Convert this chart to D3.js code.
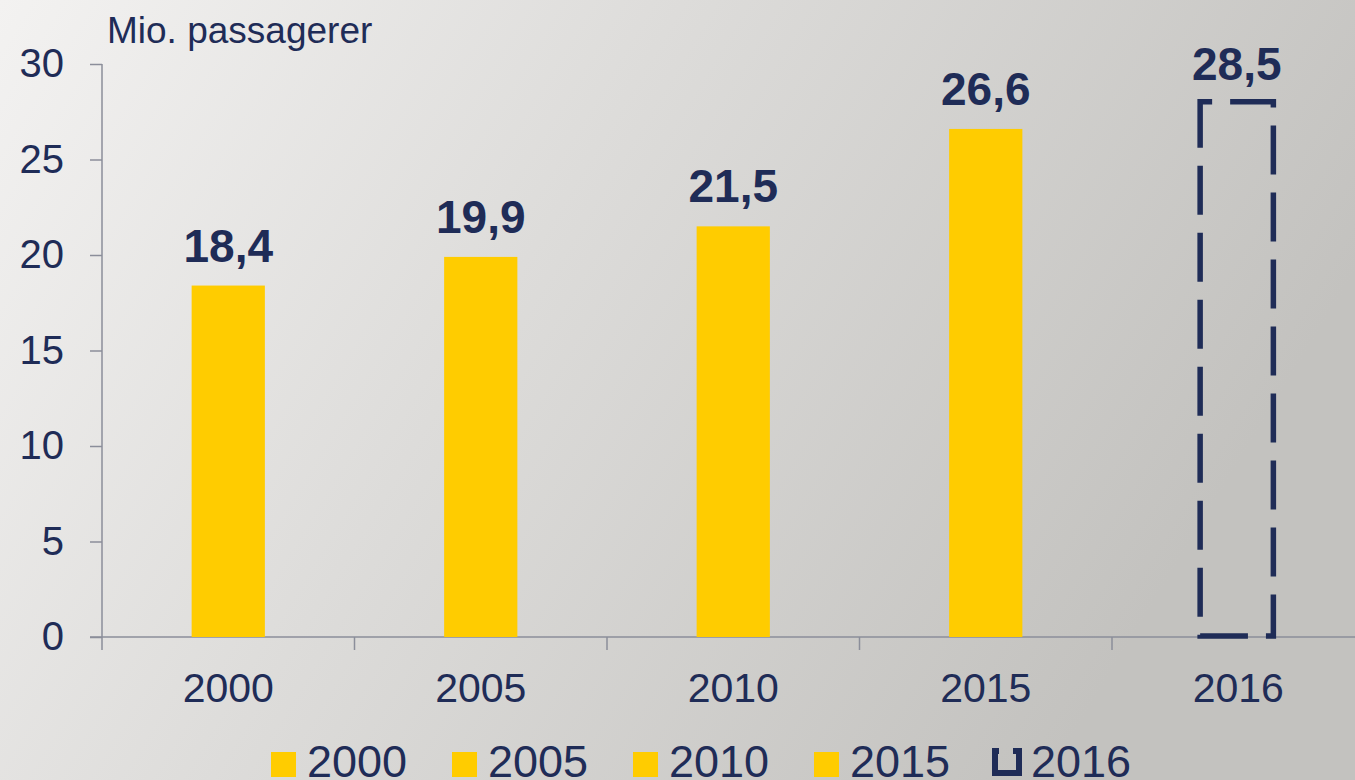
<!DOCTYPE html>
<html>
<head>
<meta charset="utf-8">
<script src="https://cdn.jsdelivr.net/npm/d3@7"></script>
<style>
  html, body { margin: 0; padding: 0; overflow: hidden; }
  svg { display: block; font-family: 'Liberation Sans', Arial, sans-serif; }
</style>
</head>
<body>
<svg id="chart"></svg>
<script>
const years = ['2000', '2005', '2010', '2015', '2016']
const values = [18.4, 19.9, 21.5, 26.6, 28.5]
const labels = ['18,4', '19,9', '21,5', '26,6', '28,5']
const outlined = [false, false, false, false, true]
const yTicks = [0, 5, 10, 15, 20, 25, 30]
const unitLabel = 'Mio. passagerer'

const W = 1355, H = 780
const navy = '#1f2c57'
const yellow = '#ffcc00'
const axisColor = '#8b8e9a'

const margin = { top: 64, left: 102 }
const plotBottom = 637
const band = 252.5

const svg = d3.select('#chart').attr('width', W).attr('height', H)

// background
const defs = svg.append('defs')
const grad = defs.append('linearGradient')
  .attr('id', 'bg')
  .attr('x1', 0).attr('y1', 0).attr('x2', 1).attr('y2', 0.35)
grad.append('stop').attr('offset', '0%').attr('stop-color', '#f3f2f1')
grad.append('stop').attr('offset', '45%').attr('stop-color', '#dddcda')
grad.append('stop').attr('offset', '100%').attr('stop-color', '#c3c2bf')
svg.append('rect').attr('width', W).attr('height', H).attr('fill', 'url(#bg)')

const xScale = d3.scaleBand()
  .domain(years)
  .range([margin.left, margin.left + band * years.length])

const yScale = d3.scaleLinear()
  .domain([0, 30])
  .range([plotBottom, margin.top])

const barW = xScale.bandwidth() * 0.29
const data = years.map((y, i) => ({ year: y, value: values[i], label: labels[i], outlined: outlined[i] }))

// y axis
const yAxis = d3.axisLeft(yScale).tickValues(yTicks).tickSize(12).tickPadding(26).tickFormat(d => d)
const gy = svg.append('g').attr('transform', `translate(${margin.left},0)`).call(yAxis)
gy.select('.domain').remove()
gy.selectAll('.tick line').attr('stroke', axisColor).attr('stroke-width', 1.5)
gy.selectAll('.tick text').attr('fill', navy).attr('font-size', 40).attr('font-family', null)
svg.append('line')
  .attr('x1', margin.left).attr('x2', margin.left)
  .attr('y1', yScale(30)).attr('y2', plotBottom)
  .attr('stroke', axisColor).attr('stroke-width', 1.5)

svg.append('text')
  .attr('x', 107).attr('y', 43)
  .attr('fill', navy).attr('font-size', 37)
  .text(unitLabel)

// x axis
svg.append('line')
  .attr('x1', margin.left - 12).attr('x2', W)
  .attr('y1', plotBottom).attr('y2', plotBottom)
  .attr('stroke', axisColor).attr('stroke-width', 1.5)

svg.selectAll('.xtick')
  .data(years)
  .enter()
  .append('line')
  .attr('class', 'xtick')
  .attr('x1', d => xScale(d)).attr('x2', d => xScale(d))
  .attr('y1', plotBottom).attr('y2', plotBottom + 13)
  .attr('stroke', axisColor).attr('stroke-width', 1.5)

svg.selectAll('.xlabel')
  .data(years)
  .enter()
  .append('text')
  .attr('class', 'xlabel')
  .attr('x', d => xScale(d) + xScale.bandwidth() / 2)
  .attr('y', 702)
  .attr('text-anchor', 'middle')
  .attr('fill', navy).attr('font-size', 41)
  .text(d => d)

// bars
const cx = d => xScale(d.year) + xScale.bandwidth() / 2

svg.selectAll('.bar')
  .data(data.filter(d => !d.outlined))
  .enter()
  .append('rect')
  .attr('class', 'bar')
  .attr('x', d => cx(d) - barW / 2)
  .attr('y', d => yScale(d.value))
  .attr('width', barW)
  .attr('height', d => plotBottom - yScale(d.value))
  .attr('fill', yellow)

// the 2016 estimate: dashed outline, drawn a bit inside the value line
const inset = 9
const topOf = d => d.outlined ? yScale(d.value) + inset : yScale(d.value)

svg.selectAll('.est')
  .data(data.filter(d => d.outlined))
  .enter()
  .append('rect')
  .attr('class', 'est')
  .attr('x', d => cx(d) - barW / 2 - 1.5)
  .attr('y', d => topOf(d))
  .attr('width', barW)
  .attr('height', d => plotBottom - 1 - topOf(d))
  .attr('fill', 'none')
  .attr('stroke', navy)
  .attr('stroke-width', 5.5)
  .attr('stroke-dasharray', '49 18')
  .attr('stroke-dashoffset', 37)

// value labels
svg.selectAll('.val')
  .data(data)
  .enter()
  .append('text')
  .attr('class', 'val')
  .attr('x', d => cx(d) - (d.outlined ? 1.5 : 0))
  .attr('y', d => topOf(d) - (d.outlined ? 22 : 24))
  .attr('text-anchor', 'middle')
  .attr('fill', navy)
  .attr('font-size', 46)
  .attr('font-weight', 'bold')
  .text(d => d.label)

// legend
const legendX = i => 271 + i * 181
const legend = svg.selectAll('.leg')
  .data(data)
  .enter()
  .append('g')
  .attr('class', 'leg')
  .attr('transform', (d, i) => `translate(${legendX(i)},0)`)

legend.filter(d => !d.outlined)
  .append('rect')
  .attr('x', 0).attr('y', 752)
  .attr('width', 25).attr('height', 25)
  .attr('fill', yellow)

legend.filter(d => d.outlined)
  .append('rect')
  .attr('x', 0).attr('y', 751)
  .attr('width', 24).attr('height', 22)
  .attr('fill', 'none')
  .attr('stroke', navy)
  .attr('stroke-width', 6)
  .attr('stroke-dasharray', '4 14 200')

legend.append('text')
  .attr('x', 36)
  .attr('y', 777)
  .attr('fill', navy)
  .attr('font-size', 45)
  .text(d => d.year)
</script>
</body>
</html>
